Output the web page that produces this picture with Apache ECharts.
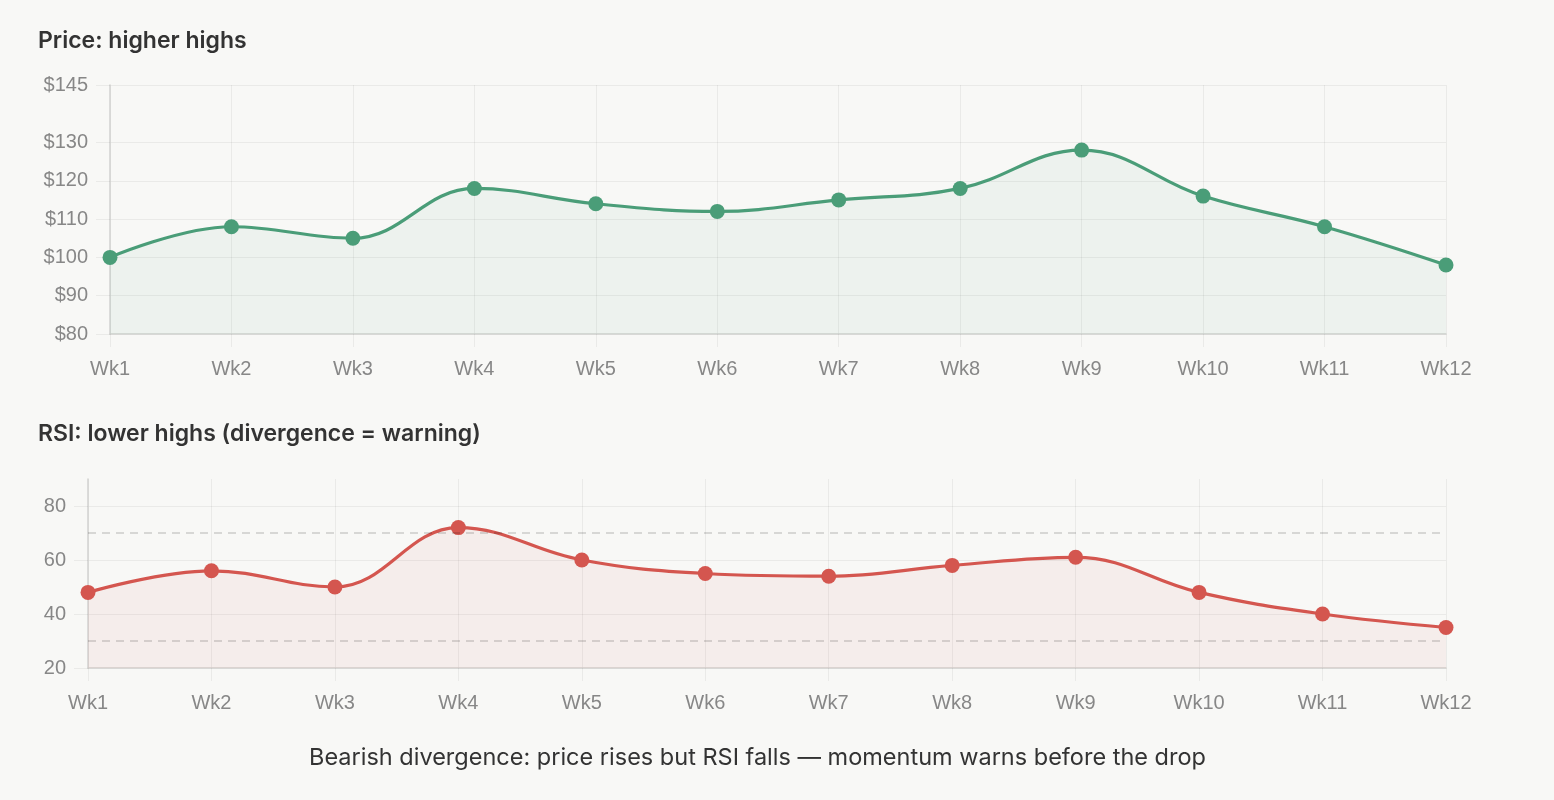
<!DOCTYPE html>
<html>
<head>
<meta charset="utf-8">
<script src="https://cdn.jsdelivr.net/npm/echarts@6/dist/echarts.min.js"></script>
<style>
  html, body { margin: 0; padding: 0; background: #f8f8f6; }
  #chart { width: 1554px; height: 800px; }
</style>
</head>
<body>
<div id="chart"></div>
<script>
// data
const weeks = ['Wk1', 'Wk2', 'Wk3', 'Wk4', 'Wk5', 'Wk6', 'Wk7', 'Wk8', 'Wk9', 'Wk10', 'Wk11', 'Wk12'];
const price = [100, 108, 105, 118, 114, 112, 115, 118, 128, 116, 108, 98];
const rsi = [48, 56, 50, 72, 60, 55, 54, 58, 61, 48, 40, 35];
const priceTicks = [80, 90, 100, 110, 120, 130, 145];
const rsiTicks = [20, 40, 60, 80];
const rsiLevels = [70, 30];

const GREEN = '#4a9d78';
const RED = '#d4564f';
const gridColor = 'rgba(0,0,0,0.055)';
const axisColor = '#d2d2d0';
const labelFont = { color: '#878787', fontSize: 20, fontFamily: 'Liberation Sans' };

const chart = echarts.init(document.getElementById('chart'));

function catAxis(gridIndex) {
    return {
        type: 'category',
        gridIndex: gridIndex,
        data: weeks,
        boundaryGap: false,
        axisLine: { lineStyle: { color: axisColor, width: 1.5 } },
        axisTick: { show: true, length: 13, lineStyle: { color: gridColor } },
        axisLabel: Object.assign({ margin: 25 }, labelFont),
        splitLine: { show: true, lineStyle: { color: gridColor } }
    };
}

function valAxis(gridIndex, min, max, ticks, fmt) {
    return {
        type: 'value',
        gridIndex: gridIndex,
        min: min,
        max: max,
        axisLine: { show: true, lineStyle: { color: axisColor, width: 1.5 } },
        axisTick: { show: true, length: 14, customValues: ticks, lineStyle: { color: gridColor } },
        axisLabel: Object.assign({ margin: 22, customValues: ticks, formatter: fmt }, labelFont),
        splitLine: { show: true, lineStyle: { color: gridColor } }
    };
}

const titleStyle = { fontFamily: 'Inter', fontSize: 23, fontWeight: 600, color: '#333' };

const option = {
    backgroundColor: '#f8f8f6',
    animation: false,
    title: [
        { text: 'Price: higher highs', left: 33, top: 25, textStyle: titleStyle },
        { text: 'RSI: lower highs (divergence = warning)', left: 33, top: 418, textStyle: titleStyle },
        {
            text: 'Bearish divergence: price rises but RSI falls \u2014 momentum warns before the drop',
            left: 304, top: 741,
            textStyle: { fontFamily: 'Inter', fontSize: 23.5, fontWeight: 400, color: '#333' }
        }
    ],
    grid: [
        { left: 110, right: 108, top: 85, height: 249 },
        { left: 88, right: 108, top: 479, height: 189 }
    ],
    xAxis: [catAxis(0), catAxis(1)],
    yAxis: [
        valAxis(0, 80, 145, priceTicks, v => '$' + v),
        valAxis(1, 20, 90, rsiTicks, v => String(v))
    ],
    series: [
        {
            name: 'Price',
            type: 'line',
            xAxisIndex: 0,
            yAxisIndex: 0,
            smooth: 0.4,
            symbol: 'circle',
            symbolSize: 15,
            lineStyle: { width: 3.2, color: GREEN },
            itemStyle: { color: GREEN },
            areaStyle: { color: 'rgba(74,157,120,0.09)', origin: 'start' },
            data: price
        },
        {
            name: 'RSI',
            type: 'line',
            xAxisIndex: 1,
            yAxisIndex: 1,
            smooth: 0.4,
            symbol: 'circle',
            symbolSize: 15,
            lineStyle: { width: 3.2, color: RED },
            itemStyle: { color: RED },
            areaStyle: { color: 'rgba(212,86,79,0.09)', origin: 'start' },
            markLine: {
                silent: true,
                symbol: 'none',
                label: { show: false },
                lineStyle: { color: 'rgba(0,0,0,0.18)', type: [8, 6], width: 1.5 },
                data: rsiLevels.map(v => ({ yAxis: v }))
            },
            data: rsi
        }
    ]
};

chart.setOption(option);
window.addEventListener('resize', () => chart.resize());
</script>
</body>
</html>
